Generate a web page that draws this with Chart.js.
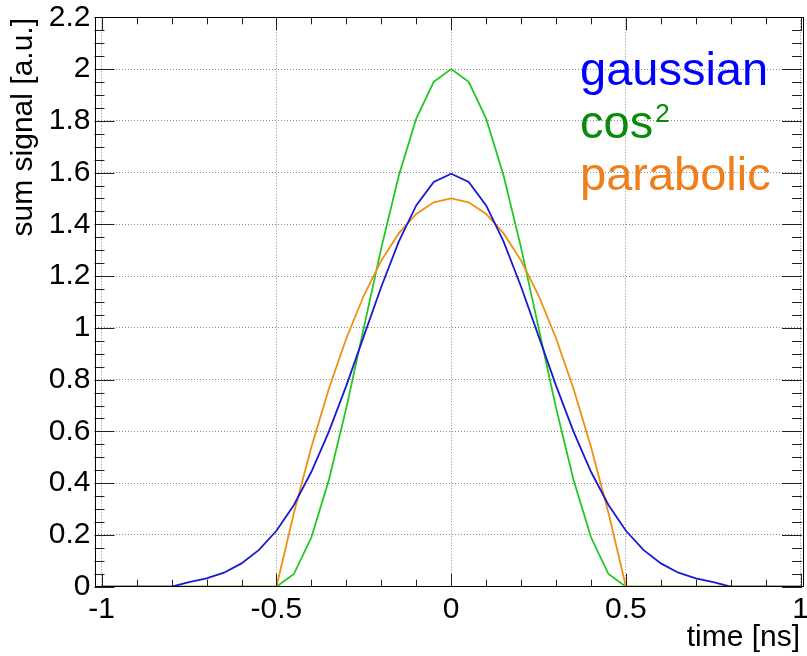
<!DOCTYPE html>
<html>
<head>
<meta charset="utf-8">
<script src="https://cdn.jsdelivr.net/npm/chart.js@4/dist/chart.umd.min.js"></script>
<style>
  html, body { margin: 0; padding: 0; background: #fff; }
  #plot { display: block; }
</style>
</head>
<body>
<canvas id="plot" width="807" height="656"></canvas>
<script>
// pulse shapes vs time, sampled every 0.05 ns
const timeNs = [
  -1, -0.95, -0.9, -0.85, -0.8, -0.75, -0.7, -0.65, -0.6, -0.55,
  -0.5, -0.45, -0.4, -0.35, -0.3, -0.25, -0.2, -0.15, -0.1, -0.05,
  0,
  0.05, 0.1, 0.15, 0.2, 0.25, 0.3, 0.35, 0.4, 0.45, 0.5,
  0.55, 0.6, 0.65, 0.7, 0.75, 0.8, 0.85, 0.9, 0.95, 1,
];
const gaussian = [
  0, 0, 0, 0, 0, 0.018, 0.032, 0.054, 0.09, 0.142,
  0.216, 0.316, 0.444, 0.599, 0.777, 0.968, 1.159, 1.333, 1.473, 1.564,
  1.596,
  1.564, 1.473, 1.333, 1.159, 0.968, 0.777, 0.599, 0.444, 0.316, 0.216,
  0.142, 0.09, 0.054, 0.032, 0.018, 0, 0, 0, 0, 0,
];
const cos2 = [
  0, 0, 0, 0, 0, 0, 0, 0, 0, 0,
  0, 0.049, 0.191, 0.412, 0.691, 1.0, 1.309, 1.588, 1.809, 1.951,
  2.0,
  1.951, 1.809, 1.588, 1.309, 1.0, 0.691, 0.412, 0.191, 0.049, 0,
  0, 0, 0, 0, 0, 0, 0, 0, 0, 0,
];
const parabolic = [
  0, 0, 0, 0, 0, 0, 0, 0, 0, 0,
  0, 0.285, 0.54, 0.765, 0.96, 1.125, 1.26, 1.365, 1.44, 1.485,
  1.5,
  1.485, 1.44, 1.365, 1.26, 1.125, 0.96, 0.765, 0.54, 0.285, 0,
  0, 0, 0, 0, 0, 0, 0, 0, 0, 0,
];

const xTicks = [-1, -0.5, 0, 0.5, 1];
const yTicks = [0, 0.2, 0.4, 0.6, 0.8, 1, 1.2, 1.4, 1.6, 1.8, 2, 2.2];

const FONT = "'Liberation Sans', Arial, Helvetica, sans-serif";
const X_MIN = -1.0206, X_MAX = 1.0037;

const toPoints = (ys) => timeNs.map((t, i) => ({ x: t, y: ys[i] }));
// plain labels like ROOT: "2", "1.8", "-0.5" (no padded decimals)
const plainLabel = (v) => String(Math.round(v * 100) / 100);

// ROOT-like frame with inward major/minor ticks on all four sides
const frameTicks = {
  id: "frameTicks",
  afterDatasetsDraw(chart) {
    const { ctx, chartArea: a, scales: { x, y } } = chart;
    ctx.save();
    ctx.strokeStyle = "#222";
    ctx.lineWidth = 1;
    ctx.beginPath();
    // x ticks every 0.1, major every 0.5
    for (let i = -10; i <= 10; i++) {
      const px = Math.round(x.getPixelForValue(i / 10)) + 0.5;
      const len = i % 5 === 0 ? 13 : 7;
      ctx.moveTo(px, a.bottom); ctx.lineTo(px, a.bottom - len);
      ctx.moveTo(px, a.top); ctx.lineTo(px, a.top + len);
    }
    // y ticks every 0.05, major every 0.2
    for (let i = 0; i <= 44; i++) {
      const py = Math.round(y.getPixelForValue(i * 0.05)) + 0.5;
      const len = i % 4 === 0 ? 20 : 10;
      ctx.moveTo(a.left, py); ctx.lineTo(a.left + len, py);
      ctx.moveTo(a.right, py); ctx.lineTo(a.right - len, py);
    }
    ctx.stroke();
    ctx.strokeStyle = "#000";
    ctx.strokeRect(Math.round(a.left) + 0.5, Math.round(a.top) + 0.5,
      Math.round(a.right - a.left), Math.round(a.bottom - a.top));
    ctx.restore();
  },
  afterDraw(chart) {
    const { ctx } = chart;
    ctx.save();
    // axis titles
    ctx.fillStyle = "#000";
    ctx.font = `30px ${FONT}`;
    ctx.textAlign = "right";
    ctx.textBaseline = "alphabetic";
    ctx.fillText("time [ns]", 800, 646);
    ctx.translate(32, 18);
    ctx.rotate(-Math.PI / 2);
    ctx.fillText("sum signal [a.u.]", 0, 0);
    ctx.restore();

    // legend text
    ctx.save();
    ctx.textAlign = "left";
    ctx.textBaseline = "alphabetic";
    ctx.font = `47px ${FONT}`;
    ctx.fillStyle = "#0000ff";
    ctx.fillText("gaussian", 580, 85);
    ctx.fillStyle = "#0a8a0a";
    ctx.fillText("cos", 580, 138);
    const w = ctx.measureText("cos").width;
    ctx.font = `26px ${FONT}`;
    ctx.fillText("2", 580 + w + 2, 122);
    ctx.font = `47px ${FONT}`;
    ctx.fillStyle = "#f07e1a";
    ctx.fillText("parabolic", 580, 190);
    ctx.restore();
  },
};

new Chart(document.getElementById("plot"), {
  type: "line",
  data: {
    datasets: [
      // first dataset is painted last (on top)
      { label: "gaussian", data: toPoints(gaussian), borderColor: "#1a1ad2" },
      { label: "parabolic", data: toPoints(parabolic), borderColor: "#ee9010" },
      { label: "cos2", data: toPoints(cos2), borderColor: "#22c822" },
    ].map((d) => ({ ...d, borderWidth: 1.8, pointRadius: 0, tension: 0, fill: false })),
  },
  options: {
    responsive: false,
    animation: false,
    events: [],
    layout: { padding: { top: 17.3, right: 5, left: 0, bottom: 0 } },
    plugins: { legend: { display: false }, tooltip: { enabled: false } },
    scales: {
      x: {
        type: "linear",
        min: X_MIN,
        max: X_MAX,
        afterBuildTicks: (s) => { s.ticks = xTicks.map((v) => ({ value: v })); },
        afterFit: (s) => { s.height = 69.3; s.paddingLeft = 0; s.paddingRight = 0; },
        grid: { color: "#8a8a8a", lineWidth: 1, drawTicks: false },
        border: { display: false, dash: [1, 2] },
        ticks: {
          color: "#000",
          font: { family: FONT, size: 30 },
          padding: 5,
          maxRotation: 0,
          autoSkip: false,
          callback: plainLabel,
        },
      },
      y: {
        type: "linear",
        min: 0,
        max: 2.2,
        afterBuildTicks: (s) => { s.ticks = yTicks.map((v) => ({ value: v })); },
        afterFit: (s) => { s.width = 94.5; s.paddingTop = 0; s.paddingBottom = 0; },
        grid: { color: "#8a8a8a", lineWidth: 1, drawTicks: false },
        border: { display: false, dash: [1, 2] },
        ticks: {
          color: "#000",
          font: { family: FONT, size: 30 },
          padding: 4,
          autoSkip: false,
          callback: plainLabel,
        },
      },
    },
  },
  plugins: [frameTicks],
});
</script>
</body>
</html>
